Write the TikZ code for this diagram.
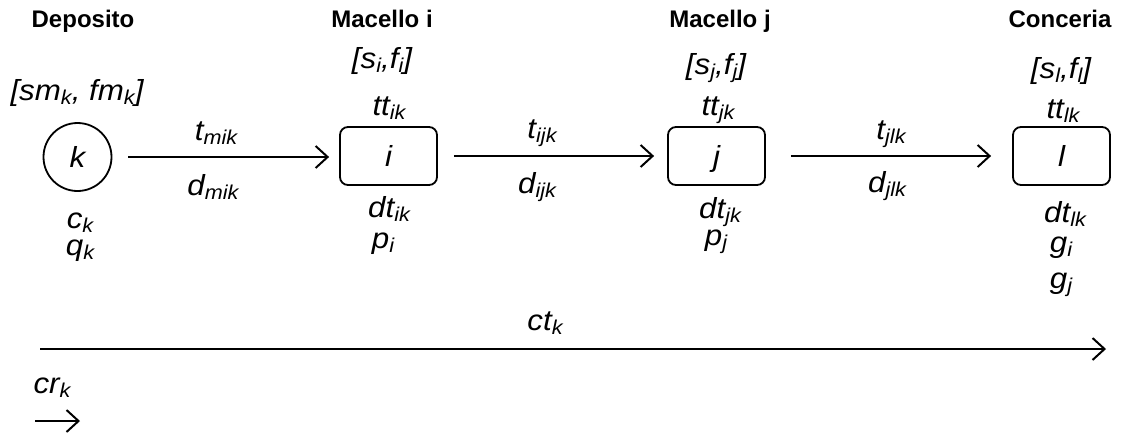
\documentclass[tikz,border=0pt]{standalone}
\usepackage{fontspec}
\setmainfont{Liberation Sans}
\newfontfamily\labelfont[FakeStretch=1.08]{Liberation Sans}
\usetikzlibrary{arrows.meta}
% subscript in the label style
\newcommand\lo[1]{\raisebox{-0.14em}{\fontsize{20}{20}\selectfont #1}}
\begin{document}
\begin{tikzpicture}[x=1pt,y=-1pt,
  lbl/.style={font=\fontsize{29}{31}\labelfont\itshape, inner sep=0pt, anchor=base},
  ttl/.style={font=\fontsize{24}{26}\selectfont\bfseries, inner sep=0pt, anchor=base},
  site/.style={draw, line width=1.8pt, rounded corners=8pt, minimum width=97pt,
    minimum height=58pt, inner sep=0pt, text height=20pt, text depth=0pt,
    font=\fontsize{29}{31}\labelfont\itshape},
  depot/.style={draw, circle, line width=1.8pt, minimum size=68pt, inner sep=0pt,
    text height=20pt, text depth=0pt, font=\fontsize{29}{31}\labelfont\itshape},
  conn/.style={line width=2pt, -{Straight Barb[length=12pt,width=22pt,line width=2pt]}}]
\path[use as bounding box] (0,0) rectangle (1121,432);

% depot
\node[ttl] (tD) at (83,27) {Deposito};
\node[lbl] (wk) at (77,100) {[sm\lo{k}, fm\lo{k}]};
\node[depot] (k) at (77.5,157) {k};
\node[lbl] (ck) at (80,228) {c\lo{k}};
\node[lbl] (qk) at (80,255) {q\lo{k}};

% slaughterhouse i
\node[ttl] (tI) at (382,27) {Macello i};
\node[lbl] (wi) at (382,68) {[s\lo{i},f\lo{i}]};
\node[lbl] (tti) at (389,115) {tt\lo{ik}};
\node[site] (i) at (388.5,156) {i};
\node[lbl] (dti) at (389,217) {dt\lo{ik}};
\node[lbl] (pi) at (383,248) {p\lo{i}};

% slaughterhouse j
\node[ttl] (tJ) at (720,27) {Macello j};
\node[lbl] (wj) at (716,74) {[s\lo{j},f\lo{j}]};
\node[lbl] (ttj) at (718,115) {tt\lo{jk}};
\node[site] (j) at (716.5,156) {j};
\node[lbl] (dtj) at (720,218) {dt\lo{jk}};
\node[lbl] (pj) at (716,245) {p\lo{j}};

% tannery l
\node[ttl] (tL) at (1060,27) {Conceria};
\node[lbl] (wl) at (1061,78) {[s\lo{l},f\lo{l}]};
\node[lbl] (ttl) at (1063,118) {tt\lo{lk}};
\node[site] (l) at (1061.5,156) {l};
\node[lbl] (dtl) at (1065,222) {dt\lo{lk}};
\node[lbl] (gi) at (1061,252) {g\lo{i}};
\node[lbl] (gj) at (1061,288) {g\lo{j}};

% legs of the route
\draw[conn] ([xshift=16pt]k.east) -- ([xshift=-10pt]k.east -| i.west);
\node[lbl] (tmik) at (216,140) {t\lo{mik}};
\node[lbl] (dmik) at (213,195) {d\lo{mik}};
\draw[conn] ([xshift=16pt]i.east) -- ([xshift=-13pt]j.west);
\node[lbl] (tijk) at (542,138) {t\lo{ijk}};
\node[lbl] (dijk) at (537,193) {d\lo{ijk}};
\draw[conn] ([xshift=25pt]j.east) -- ([xshift=-21pt]l.west);
\node[lbl] (tjlk) at (891,139) {t\lo{jlk}};
\node[lbl] (djlk) at (887,192) {d\lo{jlk}};

% total route time and cost
\coordinate (ctS) at (40,349);
\coordinate (ctE) at (1106,349);
\draw[conn] (ctS) -- (ctE);
\node[lbl] (ctk) at (545,330) {ct\lo{k}};
\node[lbl] (crk) at (52,393) {cr\lo{k}};
\coordinate (crS) at (35,421);
\coordinate (crE) at (80,421);
\draw[conn] (crS) -- (crE);
\end{tikzpicture}
\end{document}
